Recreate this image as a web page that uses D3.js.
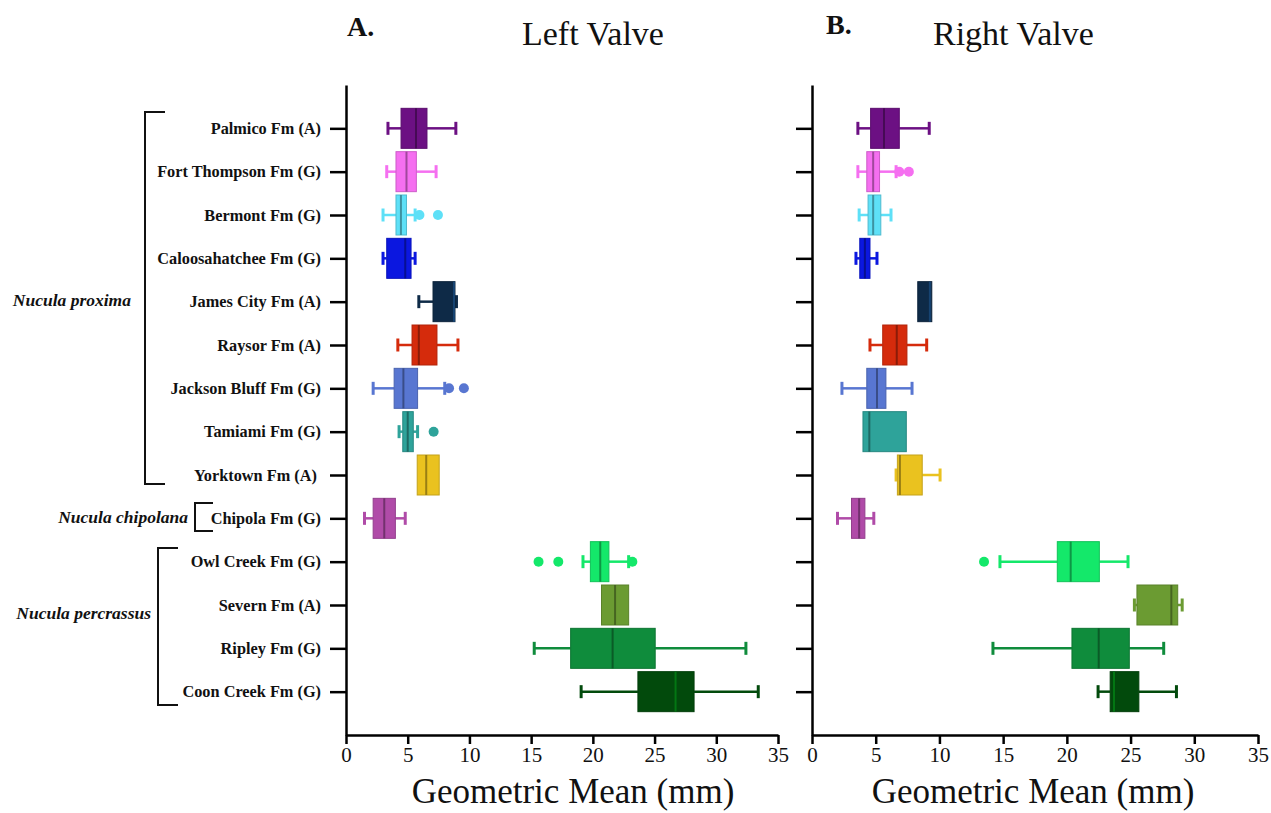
<!DOCTYPE html>
<html>
<head>
<meta charset="utf-8">
<script src="https://cdn.jsdelivr.net/npm/d3@7"></script>
<style>
  html, body { margin: 0; padding: 0; background: #fff; }
  svg { display: block; font-family: "Liberation Serif", "Times New Roman", serif; }
</style>
</head>
<body>
<svg id="chart" width="1271" height="813"></svg>
<script>
// ---------- DATA ----------
const categories = ["Palmico Fm (A)", "Fort Thompson Fm (G)", "Bermont Fm (G)", "Caloosahatchee Fm (G)",
  "James City Fm (A)", "Raysor Fm (A)", "Jackson Bluff Fm (G)", "Tamiami Fm (G)", "Yorktown Fm (A)",
  "Chipola Fm (G)", "Owl Creek Fm (G)", "Severn Fm (A)", "Ripley Fm (G)", "Coon Creek Fm (G)"];

const colors = ["#6c1083", "#f56ff0", "#5ee0f7", "#0b17e0", "#0e2a47", "#d52b0c", "#5876d1",
  "#2ea39a", "#eac21f", "#b04ba8", "#14e86a", "#6b9b32", "#0f8c3c", "#024a0c"];

// Left valve
const leftLow    = [3.4, 3.3, 3.0, 3.0, 5.9, 4.2, 2.2, 4.3, null, 1.5, 19.2, null, 15.25, 19.05];
const leftQ1     = [4.46, 4.05, 4.05, 3.3, 7.05, 5.35, 3.9, 4.6, 5.77, 2.2, 19.8, 20.7, 18.2, 23.65];
const leftMedian = [5.67, 4.9, 4.45, 4.8, 8.75, 5.9, 4.65, 5.0, 6.5, 3.1, 20.6, 21.8, 21.6, 26.7];
const leftQ3     = [6.56, 5.7, 4.9, 5.27, 8.83, 7.37, 5.8, 5.45, 7.55, 4.0, 21.3, 22.9, 25.05, 28.2];
const leftHigh   = [8.9, 7.3, 5.6, 5.6, 8.95, 9.07, 8.0, 5.8, null, 4.8, 22.9, null, 32.4, 33.4];
const leftOutliers = [[], [], [5.95, 7.45], [], [], [], [8.35, 9.55], [7.1], [], [], [15.6, 17.2, 23.2], [], [], []];

// Right valve
const rightLow    = [3.6, 3.6, 3.7, 3.45, null, 4.55, 2.35, null, 6.6, 2.0, 14.75, 25.3, 14.2, 22.45];
const rightQ1     = [4.6, 4.3, 4.4, 3.75, 8.3, 5.55, 4.3, 4.0, 6.7, 3.1, 19.25, 25.5, 20.4, 23.4];
const rightMedian = [5.65, 4.8, 4.8, 4.15, 9.25, 6.65, 5.1, 4.5, 6.9, 3.7, 20.3, 28.2, 22.5, 23.7];
const rightQ3     = [6.85, 5.3, 5.4, 4.55, 9.4, 7.45, 5.8, 7.4, 8.65, 4.15, 22.55, 28.7, 24.9, 25.65];
const rightHigh   = [9.2, 6.6, 6.2, 5.1, null, 9.0, 7.85, null, 10.05, 4.85, 24.8, 29.05, 27.6, 28.6];
const rightOutliers = [[], [6.85, 7.6], [], [], [], [], [], [], [], [], [13.5], [], [], []];

const xTicks = [0, 5, 10, 15, 20, 25, 30, 35];

const species = [
  { name: "Nucula proxima", first: "Palmico Fm (A)", last: "Yorktown Fm (A)" },
  { name: "Nucula chipolana", first: "Chipola Fm (G)", last: "Chipola Fm (G)" },
  { name: "Nucula percrassus", first: "Owl Creek Fm (G)", last: "Coon Creek Fm (G)" }
];

// ---------- DRAW ----------
const svg = d3.select("#chart");
const y = d3.scalePoint().domain(categories).range([85, 735]).padding(1);
const boxH = 40, capH = 13;
const lightMedian = new Set(["James City Fm (A)", "Coon Creek Fm (G)"]);

function panel(x, low, q1, med, q3, high, outl, showLabels, titleX) {
  const g = svg.append("g");
  const rows = categories.map((c, i) => ({ c, i, low: low[i], q1: q1[i], med: med[i], q3: q3[i], high: high[i], out: outl[i], col: colors[i] }));

  const row = g.selectAll("g.row").data(rows).join("g").attr("class", "row");
  row.filter(d => d.low != null).each(function (d) {
    const s = d3.select(this), yy = y(d.c);
    s.append("line").attr("x1", x(d.low)).attr("x2", x(d.q1)).attr("y1", yy).attr("y2", yy)
      .attr("stroke", d.col).attr("stroke-width", 2.5);
    s.append("line").attr("x1", x(d.low)).attr("x2", x(d.low)).attr("y1", yy - capH / 2).attr("y2", yy + capH / 2)
      .attr("stroke", d.col).attr("stroke-width", 3);
  });
  row.filter(d => d.high != null).each(function (d) {
    const s = d3.select(this), yy = y(d.c);
    s.append("line").attr("x1", x(d.q3)).attr("x2", x(d.high)).attr("y1", yy).attr("y2", yy)
      .attr("stroke", d.col).attr("stroke-width", 2.5);
    s.append("line").attr("x1", x(d.high)).attr("x2", x(d.high)).attr("y1", yy - capH / 2).attr("y2", yy + capH / 2)
      .attr("stroke", d.col).attr("stroke-width", 3);
  });
  row.append("rect")
    .attr("x", d => x(d.q1)).attr("width", d => x(d.q3) - x(d.q1))
    .attr("y", d => y(d.c) - boxH / 2).attr("height", boxH)
    .attr("fill", d => d.col)
    .attr("stroke", d => d3.color(d.col).darker(0.5)).attr("stroke-width", 1);
  row.append("line")
    .attr("x1", d => x(d.med)).attr("x2", d => x(d.med))
    .attr("y1", d => y(d.c) - boxH / 2).attr("y2", d => y(d.c) + boxH / 2)
    .attr("stroke", d => lightMedian.has(d.c) ? d3.color(d.col).brighter(1.3) : d3.color(d.col).darker(1.2))
    .attr("stroke-width", 2);
  row.selectAll("circle").data(d => d.out.map(v => ({ v, c: d.c, col: d.col }))).join("circle")
    .attr("cx", d => x(d.v)).attr("cy", d => y(d.c)).attr("r", 5).attr("fill", d => d.col);

  const xa = g.append("g").attr("transform", "translate(0,735)")
    .call(d3.axisBottom(x).tickValues(xTicks).tickSize(9).tickSizeOuter(0).tickPadding(3));
  xa.select(".domain").attr("stroke-width", 2.5).attr("stroke", "#000");
  xa.selectAll(".tick line").attr("stroke-width", 2.5);
  xa.selectAll(".tick text").attr("font-size", 21).attr("font-family", "Liberation Serif").attr("fill", "#111");

  const ya = g.append("g").attr("transform", `translate(${x(0)},0)`)
    .call(d3.axisLeft(y).tickSize(16).tickSizeOuter(0).tickPadding(9)
      .tickFormat(showLabels ? (d => d === "Yorktown Fm (A)" ? d + "\u00a0" : d) : () => ""));
  ya.select(".domain").attr("stroke-width", 2.5).attr("stroke", "#000");
  ya.selectAll(".tick line").attr("stroke-width", 2.5);
  ya.selectAll(".tick text").attr("font-size", 16.3).attr("font-weight", "bold")
    .attr("font-family", "Liberation Serif").attr("fill", "#111");

  g.append("text").attr("x", titleX).attr("y", 803).attr("text-anchor", "middle")
    .attr("font-size", 35).attr("fill", "#111").text("Geometric Mean (mm)");
}

const xL = d3.scaleLinear().domain([0, 35]).range([346, 778]);
const xR = d3.scaleLinear().domain([0, 35]).range([812, 1258]);
panel(xL, leftLow, leftQ1, leftMedian, leftQ3, leftHigh, leftOutliers, true, 573);
panel(xR, rightLow, rightQ1, rightMedian, rightQ3, rightHigh, rightOutliers, false, 1033);

svg.append("text").attr("x", 347).attr("y", 36).attr("font-size", 28).attr("font-weight", "bold").attr("fill", "#111").text("A.");
svg.append("text").attr("x", 522).attr("y", 45).attr("font-size", 34).attr("fill", "#111").text("Left Valve");
svg.append("text").attr("x", 826).attr("y", 34).attr("font-size", 28).attr("font-weight", "bold").attr("fill", "#111").text("B.");
svg.append("text").attr("x", 933).attr("y", 45).attr("font-size", 34).attr("fill", "#111").text("Right Valve");

const brackets = [
  { bx: 145, arm: 20, top: 112, bottom: 484, labelX: 131, labelY: 300 },
  { bx: 195, arm: 18, top: 503, bottom: 531, labelX: 188, labelY: 517 },
  { bx: 158, arm: 20, top: 548, bottom: 705, labelX: 151, labelY: 613 }
];
species.forEach((s, i) => {
  const b = brackets[i];
  svg.append("path")
    .attr("d", `M${b.bx + b.arm},${b.top}H${b.bx}V${b.bottom}H${b.bx + b.arm}`)
    .attr("fill", "none").attr("stroke", "#111").attr("stroke-width", 2);
  svg.append("text").attr("x", b.labelX).attr("y", b.labelY).attr("dy", "0.35em")
    .attr("text-anchor", "end").attr("font-size", 17.5).attr("font-weight", "bold").attr("font-style", "italic")
    .attr("fill", "#111").text(s.name);
});
</script>
</body>
</html>
